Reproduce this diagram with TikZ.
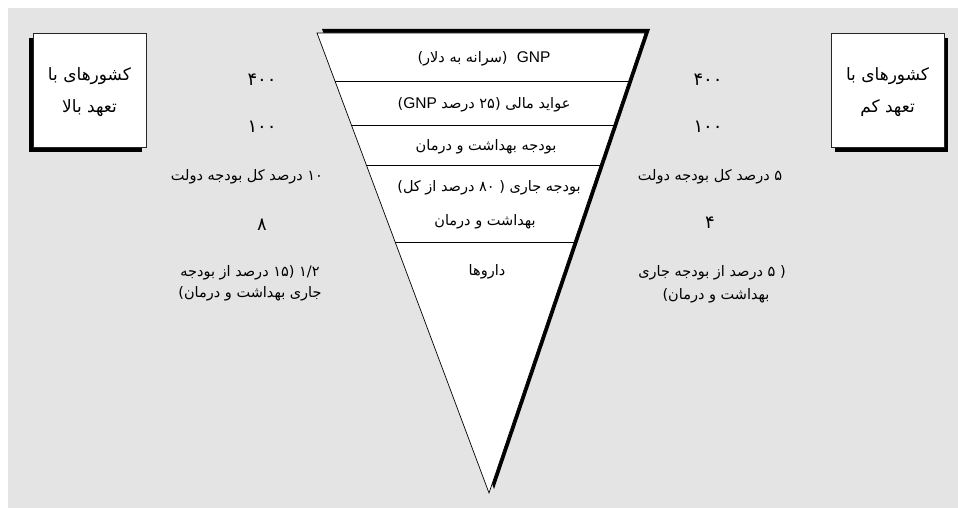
\documentclass[tikz,border=0pt]{standalone}
\usepackage{fontspec}
\setmainfont{Liberation Sans}
\newfontfamily\fafont[Script=Arabic]{DejaVu Sans}
\newfontfamily\enfont{Liberation Sans}
\TeXXeTstate=1
\usetikzlibrary{calc}
\newcommand\fa[1]{{\fafont\beginR #1\endR}}
\newcommand\en[1]{{\enfont\fontsize{15.5}{18}\selectfont #1}}
\newcommand\op{\kern0pt(\kern0pt}
\newcommand\cp{\kern0pt)\kern0pt}
\definecolor{bggray}{RGB}{228,228,228}
\tikzset{
  lbl/.style={inner sep=0pt, font=\fontsize{14.5}{17}\selectfont},
  boxlbl/.style={inner sep=0pt, font=\fontsize{17}{20}\selectfont},
  numlbl/.style={inner sep=0pt, font=\fontsize{18}{20}\selectfont},
  shadow/.style={fill=black},
  boxst/.style={fill=white, draw=black!85, line width=0.6pt},
  divider/.style={draw=black, line width=0.5pt}
}
\begin{document}
\begin{tikzpicture}[x=1pt,y=-1pt]
\useasboundingbox (0,0) rectangle (958,508);
\fill[white] (0,0) rectangle (958,508);
\fill[bggray] (8,8) rectangle (958,508);
% funnel
\coordinate (A) at (317,33);
\coordinate (B) at (645,33);
\coordinate (C) at (489,493);
\fill[shadow] ($(A)+(5,-4)$) -- ($(B)+(5,-4)$) -- ($(C)+(5,-4)$) -- cycle;
\filldraw[fill=white, draw=black, line width=0.7pt] (A) -- (B) -- (C) -- cycle;
\draw[divider] ($(A)!0.1043!(C)$) -- ($(B)!0.1043!(C)$);
\draw[divider] ($(A)!0.2!(C)$) -- ($(B)!0.2!(C)$);
\draw[divider] ($(A)!0.287!(C)$) -- ($(B)!0.287!(C)$);
\draw[divider] ($(A)!0.4543!(C)$) -- ($(B)!0.4543!(C)$);
% boxes
\fill[shadow] (29,38) rectangle (142,152);
\draw[boxst] (33,33) rectangle (146,147);
\fill[shadow] (835,38) rectangle (948,152);
\draw[boxst] (831,33) rectangle (944,147);
\node[boxlbl] (lb1) at (89.5,76) {\fa{کشورهای با}};
\node[boxlbl] (lb2) at (89.5,108) {\fa{تعهد بالا}};
\node[boxlbl] (rb1) at (887.5,76) {\fa{کشورهای با}};
\node[boxlbl] (rb2) at (887.5,108) {\fa{تعهد کم}};
% funnel rows
\node[lbl] (r1) at (484,59) {\fa{\en{GNP}\ \ \op{}سرانه به دلار\cp{}}};
\node[lbl] (r2) at (484,105) {\fa{عواید مالی \op{}۲۵ درصد \en{GNP}\cp{}}};
\node[lbl] (r3) at (486,147) {\fa{بودجه بهداشت و درمان}};
\node[lbl] (r4a) at (489,188) {\fa{بودجه جاری \op{} ۸۰ درصد از کل\cp{}}};
\node[lbl] (r4b) at (485,222) {\fa{بهداشت و درمان}};
\node[lbl] (r5) at (487,272) {\fa{داروها}};
% left column
\node[numlbl] (l1) at (262,80) {\fa{۴۰۰}};
\node[numlbl] (l2) at (262,127) {\fa{۱۰۰}};
\node[lbl] (l3) at (247,177) {\fa{۱۰ درصد کل بودجه دولت}};
\node[numlbl] (l4) at (262,225) {\fa{۸}};
\node[lbl] (l5a) at (250,273) {\fa{۱/۲ \op{}۱۵ درصد از بودجه}};
\node[lbl] (l5b) at (250,294) {\fa{جاری بهداشت و درمان\cp{}}};
% right column
\node[numlbl] (q1) at (708,80) {\fa{۴۰۰}};
\node[numlbl] (q2) at (708,127) {\fa{۱۰۰}};
\node[lbl] (q3) at (710,177) {\fa{۵ درصد کل بودجه دولت}};
\node[numlbl] (q4) at (710,223) {\fa{۴}};
\node[lbl] (q5a) at (712,273) {\fa{\op{} ۵ درصد از بودجه جاری}};
\node[lbl] (q5b) at (716,296) {\fa{بهداشت و درمان\cp{}}};
\end{tikzpicture}
\end{document}
